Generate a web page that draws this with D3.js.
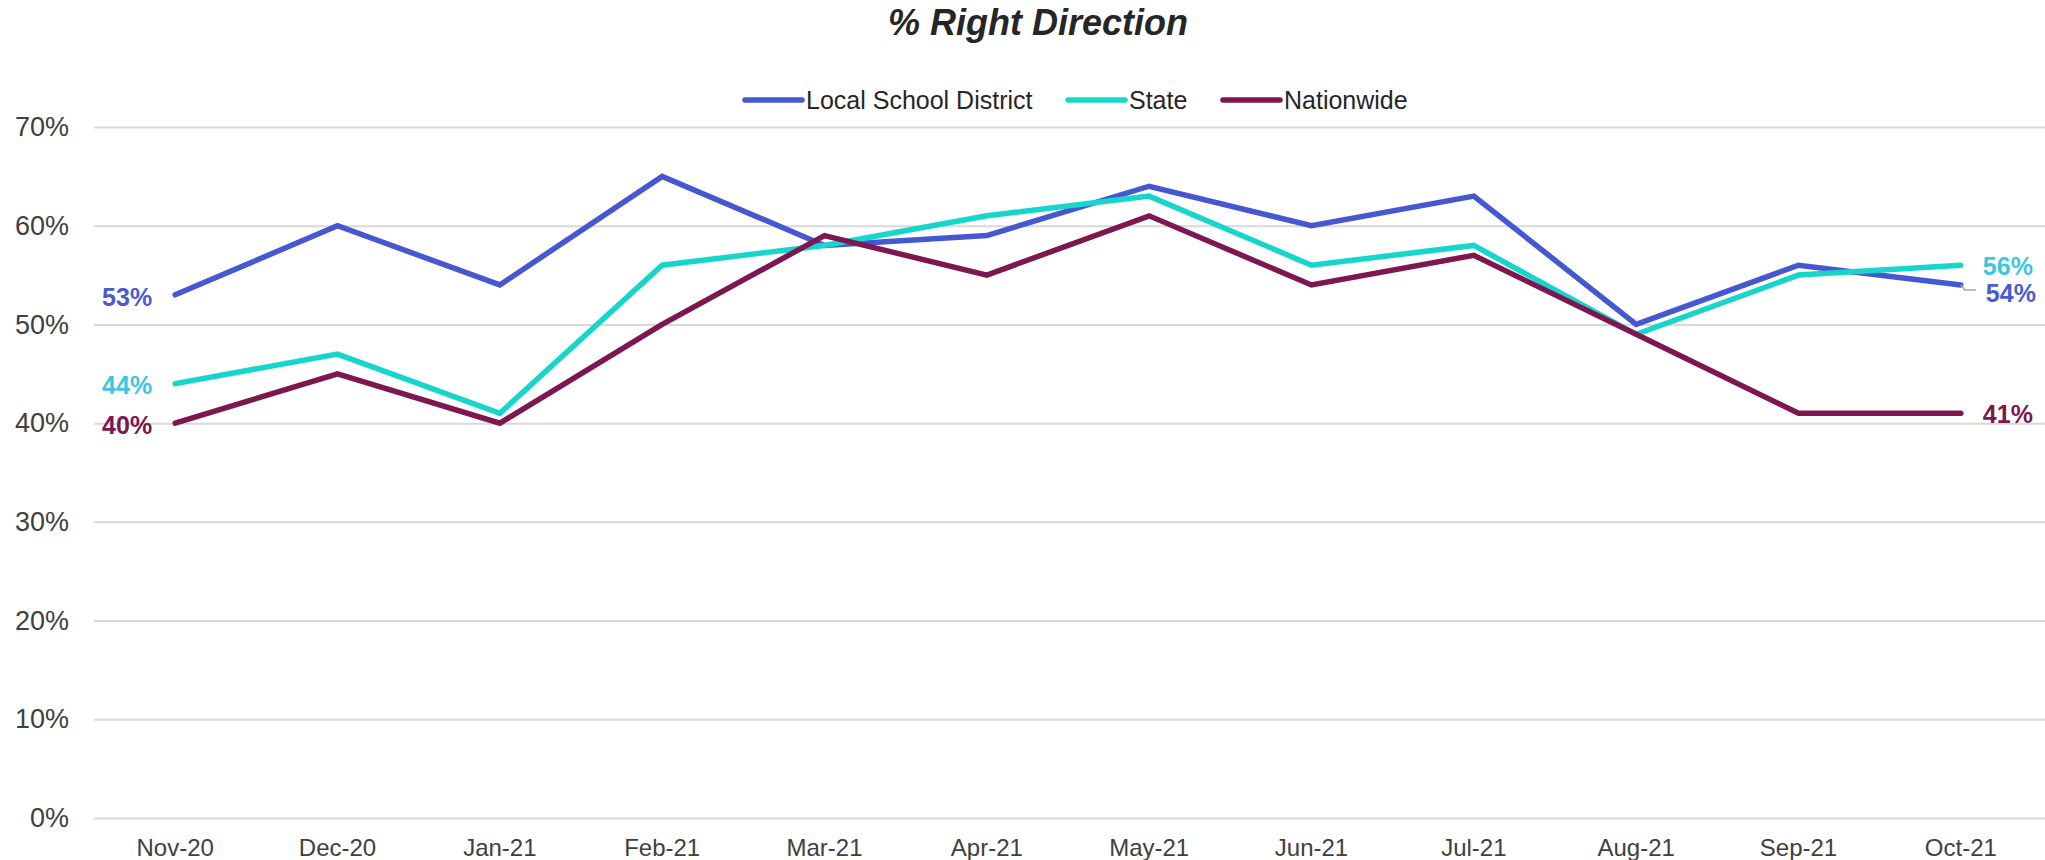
<!DOCTYPE html>
<html>
<head>
<meta charset="utf-8">
<script src="https://cdn.jsdelivr.net/npm/d3@7"></script>
<style>
  body { margin: 0; background: #fff; }
  text { font-family: "Liberation Sans", Arial, sans-serif; }
</style>
</head>
<body>
<div class="canvas"></div>
<script>
const months = ["Nov-20", "Dec-20", "Jan-21", "Feb-21", "Mar-21", "Apr-21",
  "May-21", "Jun-21", "Jul-21", "Aug-21", "Sep-21", "Oct-21"];
const localDistrict = [53, 60, 54, 65, 58, 59, 64, 60, 63, 50, 56, 54];
const stateValues = [44, 47, 41, 56, 58, 61, 63, 56, 58, 49, 55, 56];
const nationwide = [40, 45, 40, 50, 59, 55, 61, 54, 57, 49, 41, 41];
const yTicks = [0, 10, 20, 30, 40, 50, 60, 70];
const seriesNames = ["Local School District", "State", "Nationwide"];

const width = 2045;
const height = 860;

const series = [
  { name: seriesNames[0], values: localDistrict, color: "#4657d2", label: "#4a5bd1" },
  { name: seriesNames[1], values: stateValues, color: "#16d6cb", label: "#3cc6e2" },
  { name: seriesNames[2], values: nationwide, color: "#7e174f", label: "#7e174f" }
];

const svg = d3
  .select(".canvas")
  .append("svg")
  .attr("width", width)
  .attr("height", height);

const x = d3.scaleBand().domain(months).range([94, 2042]).padding(0);
const y = d3.scaleLinear().domain([0, 70]).range([818, 127]);
const cx = (i) => x(months[i]) + x.bandwidth() / 2;

// title
svg
  .append("text")
  .attr("x", 1038)
  .attr("y", 35)
  .attr("text-anchor", "middle")
  .attr("font-size", 36)
  .attr("font-weight", "bold")
  .attr("font-style", "italic")
  .attr("fill", "#262626")
  .text("% Right Direction");

// gridlines + y labels
const yAxis = svg
  .append("g")
  .attr("transform", "translate(94,0)")
  .call(d3.axisLeft(y).tickValues(yTicks).tickSize(-(width - 94)).tickFormat((d) => d + "%"));
yAxis.select(".domain").remove();
yAxis.selectAll(".tick line").attr("stroke", "#d9d9d9").attr("stroke-width", 2);
yAxis
  .selectAll(".tick text")
  .attr("x", -25)
  .attr("font-size", 27)
  .attr("fill", "#404040")
  .attr("font-family", "Liberation Sans, Arial, sans-serif");

// x labels
const xAxis = svg
  .append("g")
  .attr("transform", "translate(0,818)")
  .call(d3.axisBottom(x).tickSize(0));
xAxis.select(".domain").remove();
xAxis
  .selectAll(".tick text")
  .attr("y", 38)
  .attr("dy", 0)
  .attr("font-size", 24)
  .attr("fill", "#404040")
  .attr("font-family", "Liberation Sans, Arial, sans-serif");

// lines
const line = d3
  .line()
  .x((d, i) => cx(i))
  .y((d) => y(d));

series.forEach((s) => {
  svg
    .append("path")
    .datum(s.values)
    .attr("d", line)
    .attr("fill", "none")
    .attr("stroke", s.color)
    .attr("stroke-width", 5.5)
    .attr("stroke-linecap", "round")
    .attr("stroke-linejoin", "miter");
});

// end labels
const last = months.length - 1;
series.forEach((s) => {
  svg
    .append("text")
    .attr("x", cx(0) - 23)
    .attr("y", y(s.values[0]) + 2)
    .attr("dy", "0.35em")
    .attr("text-anchor", "end")
    .attr("font-size", 25)
    .attr("font-weight", "bold")
    .attr("fill", s.label)
    .text(s.values[0] + "%");
});

// right side labels; local district label is nudged down with a leader
const rightOffsets = [8, 1, 1];
series.forEach((s, k) => {
  svg
    .append("text")
    .attr("x", cx(last) + 22 + (k === 0 ? 3 : 0))
    .attr("y", y(s.values[last]) + rightOffsets[k])
    .attr("dy", "0.35em")
    .attr("text-anchor", "start")
    .attr("font-size", 25)
    .attr("font-weight", "bold")
    .attr("fill", s.label)
    .text(s.values[last] + "%");
});

svg
  .append("polyline")
  .attr("points", [
    [cx(last), y(localDistrict[last])],
    [cx(last) + 4, y(localDistrict[last]) + 5],
    [cx(last) + 15, y(localDistrict[last]) + 5]
  ].join(" "))
  .attr("fill", "none")
  .attr("stroke", "#a6a6a6")
  .attr("stroke-width", 1.5);

// legend
const legendX = [745, 1068, 1223];
const legend = svg.append("g");
series.forEach((s, k) => {
  legend
    .append("line")
    .attr("x1", legendX[k])
    .attr("x2", legendX[k] + 57)
    .attr("y1", 100)
    .attr("y2", 100)
    .attr("stroke", s.color)
    .attr("stroke-width", 5.5)
    .attr("stroke-linecap", "round");
  legend
    .append("text")
    .attr("x", legendX[k] + 61)
    .attr("y", 100)
    .attr("dy", "0.35em")
    .attr("font-size", 25)
    .attr("fill", "#262626")
    .text(s.name);
});
</script>
</body>
</html>
